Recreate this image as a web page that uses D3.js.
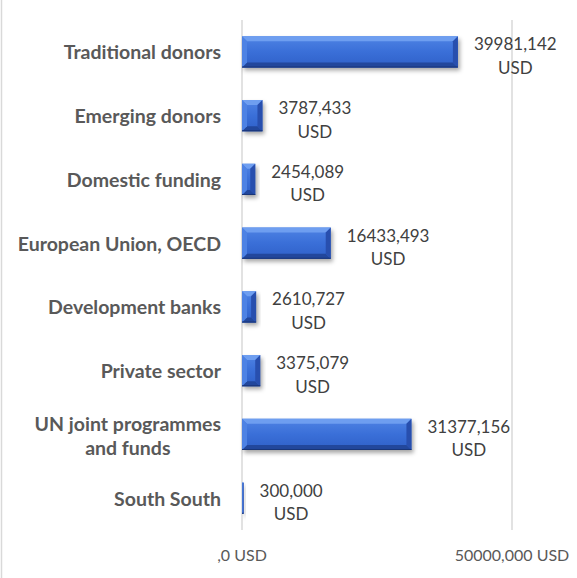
<!DOCTYPE html>
<html><head><meta charset="utf-8">
<script src="https://cdn.jsdelivr.net/npm/d3@7"></script>
<style>html,body{margin:0;padding:0;background:#fff;}svg{display:block;}</style>
</head><body>
<script>
const categories = ["Traditional donors","Emerging donors","Domestic funding","European Union, OECD","Development banks","Private sector","UN joint programmes\nand funds","South South"];
const values = [39981142, 3787433, 2454089, 16433493, 2610727, 3375079, 31377156, 300000];
const valueLabels = ["39981,142","3787,433","2454,089","16433,493","2610,727","3375,079","31377,156","300,000"];
const tickValues = [0, 50000000];
const tickLabels = [",0 USD", "50000,000 USD"];
const unit = "USD";

const W = 577, H = 578;
const FONT = "Lato, 'Open Sans', sans-serif";
const svg = d3.select("body").append("svg").attr("width", W).attr("height", H);

const defs = svg.append("defs");
const g1 = defs.append("linearGradient").attr("id","barg").attr("x1",0).attr("y1",0).attr("x2",0).attr("y2",1);
[[0,"#4f83e4"],[0.5,"#3a6fd8"],[1,"#2f60c8"]].forEach(([o,c])=>g1.append("stop").attr("offset",o).attr("stop-color",c));
const f = defs.append("filter").attr("id","sh").attr("x","-20%").attr("y","-50%").attr("width","140%").attr("height","200%");
f.append("feGaussianBlur").attr("stdDeviation",2);

// left border
svg.append("line").attr("x1",1.5).attr("x2",1.5).attr("y1",0).attr("y2",H).attr("stroke","#d9d9d9").attr("stroke-width",1.5);

const x = d3.scaleLinear().domain([0, 50000000]).range([242, 512]);
const y = d3.scaleBand().domain(categories).range([20, 530]).paddingInner(0.51).paddingOuter(0.255);

// gridlines
svg.append("g").selectAll("line").data(tickValues).join("line")
  .attr("x1", d=>x(d)).attr("x2", d=>x(d)).attr("y1",20).attr("y2",530)
  .attr("stroke","#d9d9d9").attr("stroke-width",1.5);

// axis tick labels
svg.append("g").selectAll("text").data(tickValues).join("text")
  .attr("x", d=>x(d)).attr("y", 561).attr("text-anchor","middle")
  .attr("font-family",FONT).attr("font-size",16).attr("fill","#595959")
  .text((d,i)=>tickLabels[i]);

// bars
const bars = svg.append("g").selectAll("g").data(values).join("g");
bars.append("rect")
  .attr("x", d=>x(0)+2).attr("y",(d,i)=>y(categories[i])+3)
  .attr("width", d=>Math.max(0.5,x(d)-x(0))).attr("height", y.bandwidth())
  .attr("fill","rgba(0,0,0,0.35)").attr("filter","url(#sh)");
bars.append("rect")
  .attr("x", x(0)).attr("y",(d,i)=>y(categories[i]))
  .attr("width", d=>x(d)-x(0)).attr("height", y.bandwidth())
  .attr("fill","url(#barg)");
bars.each(function(d,i){
  const g = d3.select(this);
  const x0 = x(0), w = x(d)-x(0), y0 = y(categories[i]), h = y.bandwidth();
  const b = Math.min(5, w/2, h/2);
  const P = pts => pts.map(p=>p.join(",")).join(" ");
  g.append("polygon").attr("points",P([[x0,y0],[x0+w,y0],[x0+w-b,y0+b],[x0+b,y0+b]])).attr("fill","#6e9ef0");
  g.append("polygon").attr("points",P([[x0,y0+h],[x0+w,y0+h],[x0+w-b,y0+h-b],[x0+b,y0+h-b]])).attr("fill","#22479c");
  g.append("polygon").attr("points",P([[x0,y0],[x0+b,y0+b],[x0+b,y0+h-b],[x0,y0+h]])).attr("fill","#4d82e4");
  g.append("polygon").attr("points",P([[x0+w,y0],[x0+w-b,y0+b],[x0+w-b,y0+h-b],[x0+w,y0+h]])).attr("fill","#284fae");
  g.append("line").attr("x1",x0).attr("x2",x0+w).attr("y1",y0+h-0.5).attr("y2",y0+h-0.5).attr("stroke","#1a3578").attr("stroke-width",1);
});

// value labels
const lab = svg.append("g").selectAll("g").data(values).join("g");
lab.each(function(d,i){
  const g = d3.select(this);
  const cy = y(categories[i]) + y.bandwidth()/2;
  const t1 = g.append("text").attr("font-family",FONT).attr("font-size",17).attr("fill","#404040")
    .attr("text-anchor","middle").attr("y", cy-1.5).text(valueLabels[i]);
  const w1 = t1.node().getComputedTextLength();
  const cx = x(d) + 16 + w1/2;
  t1.attr("x", cx);
  g.append("text").attr("font-family",FONT).attr("font-size",17).attr("fill","#404040")
    .attr("text-anchor","middle").attr("x", cx).attr("y", cy+22).text(unit);
});

// category labels
const cat = svg.append("g").selectAll("g").data(categories).join("g");
cat.each(function(c){
  const g = d3.select(this);
  const lines = c.split("\n");
  const cy = y(c) + y.bandwidth()/2;
  const lh = 24;
  const texts = lines.map((l,k)=>g.append("text").attr("font-family",FONT).attr("font-weight","bold")
    .attr("font-size",19.5).attr("fill","#595959").attr("text-anchor","middle")
    .attr("y", cy + 7.5 + (lines.length > 1 ? 1 : 0) + (k-(lines.length-1)/2)*lh).text(l));
  const wmax = d3.max(texts, t=>t.node().getComputedTextLength());
  texts.forEach(t=>t.attr("x", 221 - wmax/2));
});
</script>
</body></html>
